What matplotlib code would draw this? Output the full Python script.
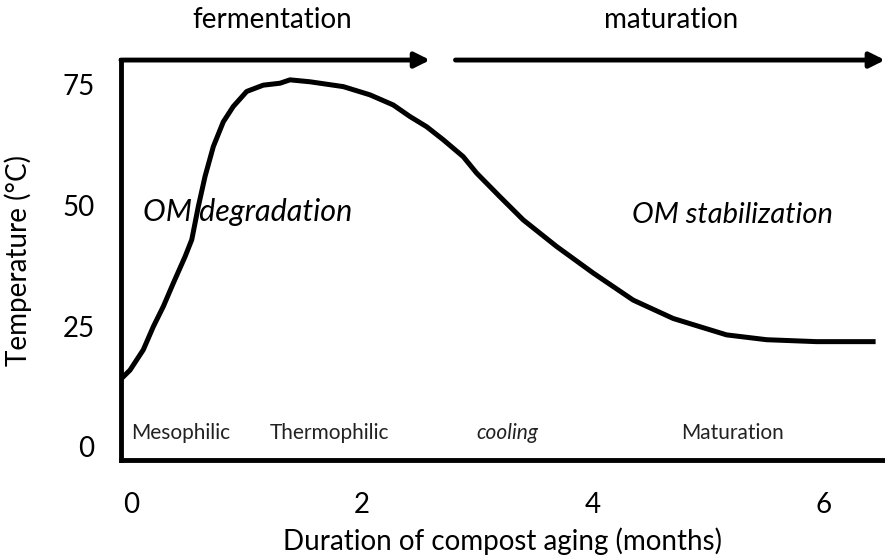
import matplotlib.pyplot as plt

plt.rcParams['font.family'] = ['Lato', 'DejaVu Sans']

# temperature curve
months = [-0.081, -0.009, 0.106, 0.193, 0.280, 0.366, 0.468, 0.526, 0.583, 0.641,
          0.713, 0.799, 0.886, 1.002, 1.145, 1.290, 1.377, 1.550, 1.838, 2.069,
          2.271, 2.416, 2.560, 2.704, 2.877, 2.993, 3.195, 3.397, 3.686, 4.003,
          4.349, 4.695, 4.926, 5.158, 5.504, 5.937, 6.427]
temp = [14.2, 15.9, 20.1, 24.9, 29.1, 33.9, 39.4, 42.9, 49.8, 56.0,
        62.2, 67.3, 70.5, 73.6, 74.9, 75.3, 76.0, 75.6, 74.6, 72.9,
        70.8, 68.4, 66.3, 63.6, 60.1, 56.7, 51.8, 47.0, 41.5, 36.0,
        30.4, 26.6, 24.9, 23.2, 22.2, 21.8, 21.8]

xticks = [0, 2, 4, 6]
yticks = [0, 25, 50, 75]

phases = ["Mesophilic", "Thermophilic", "cooling", "Maturation"]
phase_x = [0.43, 1.72, 3.26, 5.21]
phase_style = ["normal", "normal", "italic", "normal"]

stages = ["fermentation", "maturation"]
stage_x = [1.22, 4.675]
stage_arrows = [(-0.087, 2.59), (2.81, 6.53)]

fig = plt.figure(figsize=(8.85, 5.56), dpi=100)
ax = fig.add_axes([0.1367, 0.1727, 0.8633, 0.7193])

ax.plot(months, temp, color="black", lw=3.6, solid_joinstyle="round")

ax.set_xlim(-0.087, 6.53)
ax.set_ylim(-2.7, 80.1)
ax.set_xticks(xticks)
ax.set_yticks(yticks)
ax.tick_params(length=0, labelsize=20)
ax.tick_params(axis="x", pad=23)
ax.tick_params(axis="y", pad=19)

for s in ["top", "right"]:
    ax.spines[s].set_visible(False)
for s in ["left", "bottom"]:
    ax.spines[s].set_linewidth(3.5)
    ax.spines[s].set_capstyle("projecting")

ax.set_xlabel("Duration of compost aging (months)", fontsize=20, labelpad=7)
ax.set_ylabel("Temperature (°C)", fontsize=20, labelpad=22)

for name, x, st in zip(phases, phase_x, phase_style):
    ax.text(x, 2.9, name, fontsize=15, style=st, ha="center", va="center", color="#222222")

ax.text(0.1, 48.6, "OM degradation", fontsize=22, style="italic", va="center", ha="left")
ax.text(4.34, 48.0, "OM stabilization", fontsize=21, style="italic", va="center", ha="left")

for (x0, x1), name, tx in zip(stage_arrows, stages, stage_x):
    ax.annotate("", xy=(x1, 80.1), xytext=(x0, 80.1), annotation_clip=False,
                arrowprops=dict(arrowstyle="-|>,head_length=0.9,head_width=0.45",
                                lw=3.5, color="black", shrinkA=0, shrinkB=0))
    ax.text(tx, 88.4, name, fontsize=20, ha="center", va="center", clip_on=False)

fig.savefig("out.png", dpi=100)
